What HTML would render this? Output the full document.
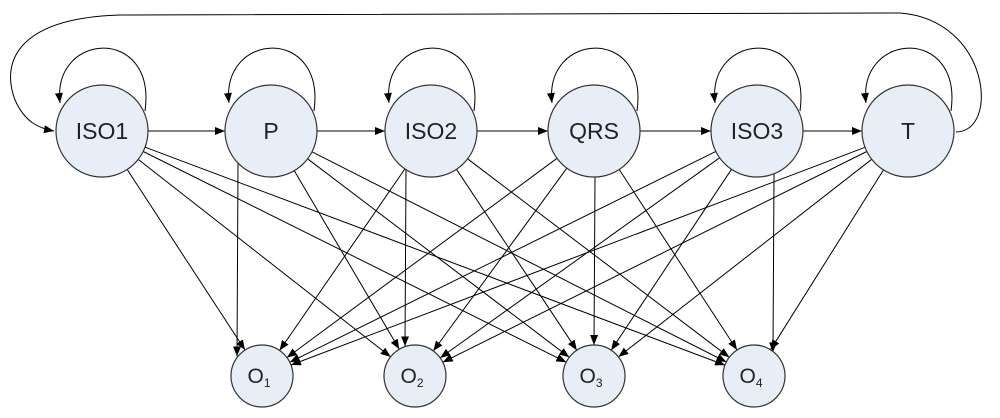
<!DOCTYPE html>
<html><head><meta charset="utf-8"><style>
html,body{margin:0;padding:0;background:#fff;}
svg{display:block;}
text{font-family:"Liberation Sans",Arial,sans-serif;fill:#222;}
</style></head><body>
<svg id="s" width="1000" height="418" viewBox="0 0 1000 418" xmlns="http://www.w3.org/2000/svg">
<defs><marker id="a" markerWidth="10" markerHeight="8" refX="10" refY="4" orient="auto" markerUnits="userSpaceOnUse"><path d="M0,0 L10,4 L0,8 z" fill="#000"/></marker></defs>
<g id="edges" stroke="#000" stroke-width="1" fill="none"></g>
<path d="M956,132 C1000,132 990,20 900,13 L120,15 C20,18 0,60 15,100 C25,122 38,128 54,131" stroke="#000" fill="none" marker-end="url(#a)"/>
<g id="nodes"></g>
</svg>
<script>
var T=[[102,"ISO1"],[271,"P"],[431,"ISO2"],[594,"QRS"],[757,"ISO3"],[908,"T"]];
var B=[[262,"1"],[415,"2"],[594,"3"],[754,"4"]];
var ty=131,tr=46,by=376,br=31;
var e="",n="";
var V={"1_0":238,"2_1":406,"3_2":595,"4_3":774};
for(var i=0;i<T.length;i++){
 var x=T[i][0];
 e+='<path d="M'+(x+43)+','+(ty-20)+' C'+(x+55)+','+(ty-105)+' '+(x-50)+','+(ty-100)+' '+(x-42)+','+(ty-28)+'" marker-end="url(#a)"/>';
 if(i<T.length-1){e+='<line x1="'+(x+tr)+'" y1="'+ty+'" x2="'+(T[i+1][0]-tr)+'" y2="'+ty+'" marker-end="url(#a)"/>';}
 for(var j=0;j<B.length;j++){
  var bx=B[j][0];
  var k=i+"_"+j;
  if(V[k]!==undefined){
   var vx=V[k];
   var sy=ty+Math.sqrt(Math.max(0,tr*tr-(vx-x)*(vx-x)));
   var ey=by-Math.sqrt(Math.max(0,br*br-(vx-bx)*(vx-bx)));
   e+='<line x1="'+vx+'" y1="'+sy.toFixed(1)+'" x2="'+(vx-1)+'" y2="'+ey.toFixed(1)+'" marker-end="url(#a)"/>';
   continue;
  }
  var dx=bx-x,dy=by-ty,L=Math.sqrt(dx*dx+dy*dy),ux=dx/L,uy=dy/L;
  e+='<line x1="'+(x+ux*tr).toFixed(1)+'" y1="'+(ty+uy*tr).toFixed(1)+'" x2="'+(bx-ux*br).toFixed(1)+'" y2="'+(by-uy*br).toFixed(1)+'" marker-end="url(#a)"/>';
 }
 n+='<circle cx="'+x+'" cy="'+ty+'" r="'+tr+'" fill="#e8eef8" stroke="#333" stroke-width="1.2"/><text x="'+x+'" y="'+(ty+8)+'" font-size="23" text-anchor="middle">'+T[i][1]+'</text>';
}
for(var j=0;j<B.length;j++){
 var bx=B[j][0];
 n+='<circle cx="'+bx+'" cy="'+by+'" r="'+br+'" fill="#e8eef8" stroke="#333" stroke-width="1.2"/><text x="'+(bx-3)+'" y="'+(by+7)+'" font-size="21" text-anchor="middle">O<tspan font-size="12" dy="4">'+B[j][1]+'</tspan></text>';
}
document.getElementById("edges").innerHTML=e;
document.getElementById("nodes").innerHTML=n;
</script>
</body></html>
